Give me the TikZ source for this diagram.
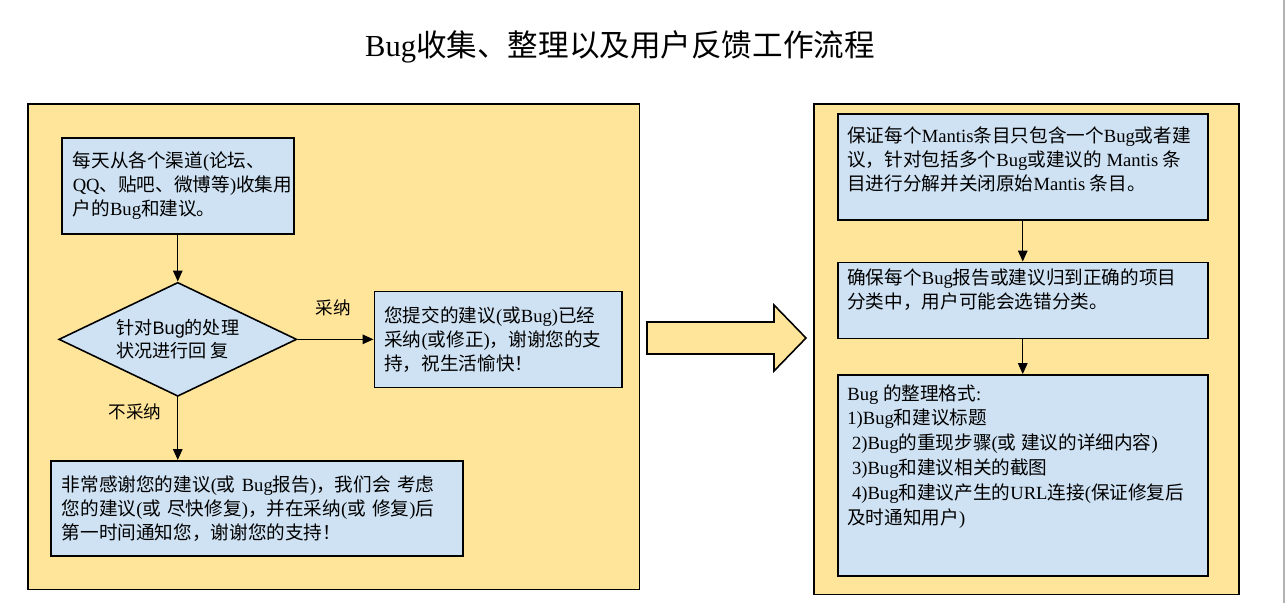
\documentclass[tikz,border=0pt]{standalone}
\usepackage{fontspec}
\setmainfont{Liberation Serif}
\setsansfont{Liberation Sans}
\newfontfamily\zhfont{Noto Sans CJK SC}
\usetikzlibrary{
    arrows.meta,
    positioning,
    shapes.geometric
}

% Chinese characters go to the CJK font
\XeTeXinterchartokenstate=1
\newXeTeXintercharclass\zhclass
\makeatletter
\def\setzhrange#1#2{%
  \count@=#1
  \loop\ifnum\count@<#2
    \XeTeXcharclass\count@=\zhclass
    \advance\count@\@ne
  \repeat}
\makeatother
\setzhrange{"3000}{"3040}
\setzhrange{"4E00}{"A000}
\setzhrange{"FF00}{"FFF0}
\newcommand\latinfont{\rmfamily}
\newcommand\sanstext{\renewcommand\latinfont{\sffamily}\sffamily}
\XeTeXinterchartoks 0 \zhclass = {\zhfont}
\XeTeXinterchartoks 4095 \zhclass = {\zhfont}
\XeTeXinterchartoks \zhclass 0 = {\latinfont}
\XeTeXinterchartoks \zhclass 4095 = {\latinfont}

\definecolor{panelyellow}{HTML}{FFE599}
\definecolor{boxblue}{HTML}{CFE2F3}

\begin{document}
\begin{tikzpicture}[
    x=0.02cm, y=-0.02cm,
    panel/.style={rectangle, draw, line width=0.9pt, fill=panelyellow, anchor=north west},
    box/.style={rectangle, draw, line width=0.9pt, fill=boxblue, align=left, font=\fontsize{10.6}{13.7}\selectfont},
    decision/.style={diamond, draw, line width=0.9pt, fill=boxblue, aspect=2.1, inner sep=0pt, align=left, font=\sanstext\fontsize{10.3}{12.8}\selectfont},
    note/.style={align=left, inner sep=0pt, anchor=north west, font=\fontsize{10.6}{13.7}\selectfont},
    lbl/.style={font=\sanstext\fontsize{10}{12}\selectfont},
    arrow/.style={-{Triangle[length=2.2mm, width=1.9mm]}, line width=0.8pt},
    bigarrow/.style={draw, line width=0.9pt, fill=panelyellow},
]
\useasboundingbox (0,0) rectangle (1286,603);
\draw[gray!60, line width=0.6pt] (1284,0) -- (1284,603);

\node[font=\fontsize{17.4}{21}\selectfont] (title) at (620,47) {Bug收集、整理以及用户反馈工作流程};

\node[panel, minimum width=12.24cm, minimum height=9.72cm] (bugpanel) at (27,103) {};
\node[panel, minimum width=8.5cm, minimum height=9.82cm] (sortpanel) at (813,103) {};

% Left panel
\node[box, anchor=north west, minimum width=4.64cm, minimum height=1.92cm, inner xsep=0.22cm, text width=4.2cm] (collect) at (61,137) {每天从各个渠道(论坛、\\QQ、贴吧、微博等)收集用\\户的Bug和建议。};
\node[decision, minimum width=4.76cm, minimum height=2.28cm, below=0.94cm of collect] (reply) {针对Bug的处理\\状况进行回\hspace{0.2em}复};
\node[box, minimum width=4.96cm, minimum height=1.92cm, inner xsep=0.2cm, text width=4.56cm, right=1.52cm of reply] (accepted) {您提交的建议(或Bug)已经\\采纳(或修正)，谢谢您的支\\持，祝生活愉快！};
\node[box, anchor=north west, minimum width=8.24cm, minimum height=1.9cm, inner xsep=0.22cm, text width=7.8cm] (rejected) at (50,460) {非常感谢您的建议(或 Bug报告)，我们会 考虑\\您的建议(或 尽快修复)，并在采纳(或 修复)后\\第一时间通知您，谢谢您的支持！};

\draw[arrow] (collect) -- (reply);
\draw[arrow] (reply) -- (accepted);
\draw[arrow] (reply) -- (reply.south |- rejected.north);

\node[lbl] (yes) at (333,308) {采纳};
\node[lbl] (no) at (135,412) {不采纳};

\draw[bigarrow] (647,322) -- (774,322) -- (774,305) -- (806,338) -- (774,371) -- (774,354) -- (647,354) -- cycle;

% Right panel
\node[box, anchor=north west, minimum width=7.4cm, minimum height=2.12cm] (split) at (837,113) {};
\node[box, minimum width=7.4cm, minimum height=1.52cm, below=0.82cm of split] (classify) {};
\node[box, minimum width=7.4cm, minimum height=4.02cm, below=0.7cm of classify] (format) {};

\node[note, xshift=0.2cm, yshift=-0.26cm] (splittext) at (split.north west) {保证每个Mantis条目只包含一个Bug或者建\\议，针对包括多个Bug或建议的 Mantis 条\\目进行分解并关闭原始Mantis 条目。};
\node[note, xshift=0.2cm, yshift=-0.14cm] (classifytext) at (classify.north west) {确保每个Bug报告或建议归到正确的项目\\分类中，用户可能会选错分类。};
\node[note, xshift=0.2cm, yshift=-0.2cm, font=\fontsize{10.6}{14.1}\selectfont] (formattext) at (format.north west) {Bug 的整理格式:\\1)Bug和建议标题\\\hspace*{0.25em}2)Bug的重现步骤(或 建议的详细内容)\\\hspace*{0.25em}3)Bug和建议相关的截图\\\hspace*{0.25em}4)Bug和建议产生的URL连接(保证修复后\\及时通知用户)};

\draw[arrow] (split) -- (classify);
\draw[arrow] (classify) -- (format);
\end{tikzpicture}
\end{document}
